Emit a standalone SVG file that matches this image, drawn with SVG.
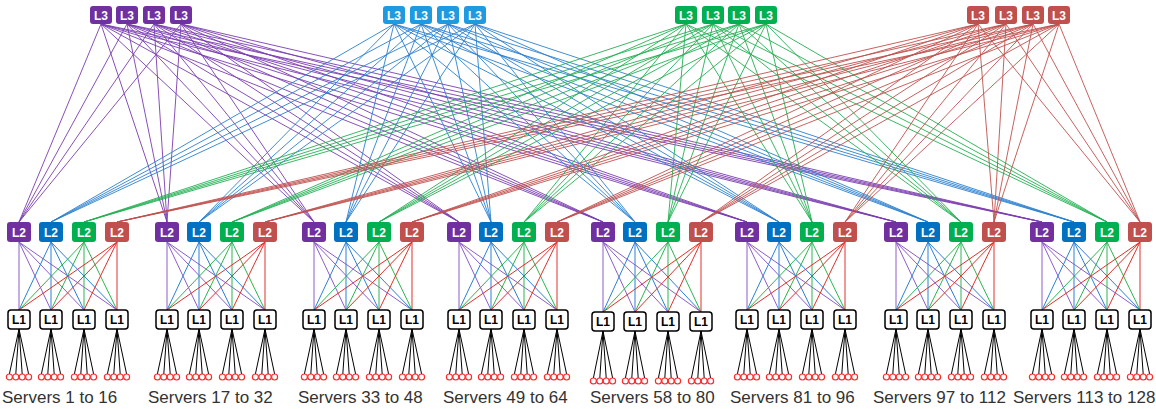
<svg xmlns="http://www.w3.org/2000/svg" width="1156" height="409" viewBox="0 0 1156 409">
<style>
.bg{fill:#fff}
line,path.fan{fill:none}
.cp line{stroke:#7a3cb0;stroke-width:0.9}
.cb line{stroke:#2a80d0;stroke-width:0.9}
.cg line{stroke:#22b052;stroke-width:0.9}
.cr line{stroke:#c0504d;stroke-width:0.9}
.dp line{stroke:#8e5cc8;stroke-width:1}
.db line{stroke:#2a7fd8;stroke-width:1}
.dg line{stroke:#2db552;stroke-width:1}
.dr line{stroke:#e0302a;stroke-width:1}
.fan{stroke:#000;stroke-width:1}
.t{font-family:"Liberation Sans",Arial,sans-serif;font-weight:bold;font-size:12px;text-anchor:middle;fill:#fff}
.t1{font-family:"Liberation Sans",Arial,sans-serif;font-weight:bold;font-size:12px;text-anchor:middle;fill:#000}
.l3p{fill:#7030a0}.l3b{fill:#1e9be0}.l3g{fill:#00b050}.l3r{fill:#c0504d}
.l2p{fill:#7030a0}.l2b{fill:#0070c0}.l2g{fill:#00b050}.l2r{fill:#c0504d}
.l1{fill:#fff;stroke:#000;stroke-width:1.5}
.srv circle{fill:#fff;stroke:#ff2a2a;stroke-width:1.2}
.lab{font-family:"Liberation Sans",Arial,sans-serif;font-size:17px;fill:#333}
</style>
<rect class="bg" x="0" y="0" width="1156" height="409"/>
<g id="connectors">
<g class="cp">
<line x1="101" y1="24" x2="19" y2="222"/><line x1="101" y1="24" x2="167" y2="222"/><line x1="101" y1="24" x2="314" y2="222"/><line x1="101" y1="24" x2="459" y2="222"/><line x1="101" y1="24" x2="603" y2="222"/><line x1="101" y1="24" x2="747" y2="222"/><line x1="101" y1="24" x2="896" y2="222"/><line x1="101" y1="24" x2="1042" y2="222"/>
<line x1="127" y1="24" x2="19" y2="222"/><line x1="127" y1="24" x2="167" y2="222"/><line x1="127" y1="24" x2="314" y2="222"/><line x1="127" y1="24" x2="459" y2="222"/><line x1="127" y1="24" x2="603" y2="222"/><line x1="127" y1="24" x2="747" y2="222"/><line x1="127" y1="24" x2="896" y2="222"/><line x1="127" y1="24" x2="1042" y2="222"/>
<line x1="154" y1="24" x2="19" y2="222"/><line x1="154" y1="24" x2="167" y2="222"/><line x1="154" y1="24" x2="314" y2="222"/><line x1="154" y1="24" x2="459" y2="222"/><line x1="154" y1="24" x2="603" y2="222"/><line x1="154" y1="24" x2="747" y2="222"/><line x1="154" y1="24" x2="896" y2="222"/><line x1="154" y1="24" x2="1042" y2="222"/>
<line x1="181" y1="24" x2="19" y2="222"/><line x1="181" y1="24" x2="167" y2="222"/><line x1="181" y1="24" x2="314" y2="222"/><line x1="181" y1="24" x2="459" y2="222"/><line x1="181" y1="24" x2="603" y2="222"/><line x1="181" y1="24" x2="747" y2="222"/><line x1="181" y1="24" x2="896" y2="222"/><line x1="181" y1="24" x2="1042" y2="222"/>
</g>
<g class="cb">
<line x1="394" y1="24" x2="51" y2="222"/><line x1="394" y1="24" x2="199" y2="222"/><line x1="394" y1="24" x2="346" y2="222"/><line x1="394" y1="24" x2="491" y2="222"/><line x1="394" y1="24" x2="635" y2="222"/><line x1="394" y1="24" x2="779" y2="222"/><line x1="394" y1="24" x2="928" y2="222"/><line x1="394" y1="24" x2="1074" y2="222"/>
<line x1="421" y1="24" x2="51" y2="222"/><line x1="421" y1="24" x2="199" y2="222"/><line x1="421" y1="24" x2="346" y2="222"/><line x1="421" y1="24" x2="491" y2="222"/><line x1="421" y1="24" x2="635" y2="222"/><line x1="421" y1="24" x2="779" y2="222"/><line x1="421" y1="24" x2="928" y2="222"/><line x1="421" y1="24" x2="1074" y2="222"/>
<line x1="448" y1="24" x2="51" y2="222"/><line x1="448" y1="24" x2="199" y2="222"/><line x1="448" y1="24" x2="346" y2="222"/><line x1="448" y1="24" x2="491" y2="222"/><line x1="448" y1="24" x2="635" y2="222"/><line x1="448" y1="24" x2="779" y2="222"/><line x1="448" y1="24" x2="928" y2="222"/><line x1="448" y1="24" x2="1074" y2="222"/>
<line x1="475" y1="24" x2="51" y2="222"/><line x1="475" y1="24" x2="199" y2="222"/><line x1="475" y1="24" x2="346" y2="222"/><line x1="475" y1="24" x2="491" y2="222"/><line x1="475" y1="24" x2="635" y2="222"/><line x1="475" y1="24" x2="779" y2="222"/><line x1="475" y1="24" x2="928" y2="222"/><line x1="475" y1="24" x2="1074" y2="222"/>
</g>
<g class="cg">
<line x1="686" y1="24" x2="84" y2="222"/><line x1="686" y1="24" x2="232" y2="222"/><line x1="686" y1="24" x2="379" y2="222"/><line x1="686" y1="24" x2="524" y2="222"/><line x1="686" y1="24" x2="668" y2="222"/><line x1="686" y1="24" x2="812" y2="222"/><line x1="686" y1="24" x2="961" y2="222"/><line x1="686" y1="24" x2="1107" y2="222"/>
<line x1="713" y1="24" x2="84" y2="222"/><line x1="713" y1="24" x2="232" y2="222"/><line x1="713" y1="24" x2="379" y2="222"/><line x1="713" y1="24" x2="524" y2="222"/><line x1="713" y1="24" x2="668" y2="222"/><line x1="713" y1="24" x2="812" y2="222"/><line x1="713" y1="24" x2="961" y2="222"/><line x1="713" y1="24" x2="1107" y2="222"/>
<line x1="739" y1="24" x2="84" y2="222"/><line x1="739" y1="24" x2="232" y2="222"/><line x1="739" y1="24" x2="379" y2="222"/><line x1="739" y1="24" x2="524" y2="222"/><line x1="739" y1="24" x2="668" y2="222"/><line x1="739" y1="24" x2="812" y2="222"/><line x1="739" y1="24" x2="961" y2="222"/><line x1="739" y1="24" x2="1107" y2="222"/>
<line x1="766" y1="24" x2="84" y2="222"/><line x1="766" y1="24" x2="232" y2="222"/><line x1="766" y1="24" x2="379" y2="222"/><line x1="766" y1="24" x2="524" y2="222"/><line x1="766" y1="24" x2="668" y2="222"/><line x1="766" y1="24" x2="812" y2="222"/><line x1="766" y1="24" x2="961" y2="222"/><line x1="766" y1="24" x2="1107" y2="222"/>
</g>
<g class="cr">
<line x1="978" y1="24" x2="117" y2="222"/><line x1="978" y1="24" x2="265" y2="222"/><line x1="978" y1="24" x2="412" y2="222"/><line x1="978" y1="24" x2="557" y2="222"/><line x1="978" y1="24" x2="701" y2="222"/><line x1="978" y1="24" x2="845" y2="222"/><line x1="978" y1="24" x2="994" y2="222"/><line x1="978" y1="24" x2="1140" y2="222"/>
<line x1="1006" y1="24" x2="117" y2="222"/><line x1="1006" y1="24" x2="265" y2="222"/><line x1="1006" y1="24" x2="412" y2="222"/><line x1="1006" y1="24" x2="557" y2="222"/><line x1="1006" y1="24" x2="701" y2="222"/><line x1="1006" y1="24" x2="845" y2="222"/><line x1="1006" y1="24" x2="994" y2="222"/><line x1="1006" y1="24" x2="1140" y2="222"/>
<line x1="1033" y1="24" x2="117" y2="222"/><line x1="1033" y1="24" x2="265" y2="222"/><line x1="1033" y1="24" x2="412" y2="222"/><line x1="1033" y1="24" x2="557" y2="222"/><line x1="1033" y1="24" x2="701" y2="222"/><line x1="1033" y1="24" x2="845" y2="222"/><line x1="1033" y1="24" x2="994" y2="222"/><line x1="1033" y1="24" x2="1140" y2="222"/>
<line x1="1059" y1="24" x2="117" y2="222"/><line x1="1059" y1="24" x2="265" y2="222"/><line x1="1059" y1="24" x2="412" y2="222"/><line x1="1059" y1="24" x2="557" y2="222"/><line x1="1059" y1="24" x2="701" y2="222"/><line x1="1059" y1="24" x2="845" y2="222"/><line x1="1059" y1="24" x2="994" y2="222"/><line x1="1059" y1="24" x2="1140" y2="222"/>
</g>
<g class="dp">
<line x1="19" y1="242" x2="19" y2="310"/><line x1="19" y1="242" x2="51" y2="310"/><line x1="19" y1="242" x2="84" y2="310"/><line x1="19" y1="242" x2="117" y2="310"/>
<line x1="167" y1="242" x2="167" y2="310"/><line x1="167" y1="242" x2="199" y2="310"/><line x1="167" y1="242" x2="232" y2="310"/><line x1="167" y1="242" x2="265" y2="310"/>
<line x1="314" y1="242" x2="314" y2="310"/><line x1="314" y1="242" x2="346" y2="310"/><line x1="314" y1="242" x2="379" y2="310"/><line x1="314" y1="242" x2="412" y2="310"/>
<line x1="459" y1="242" x2="459" y2="310"/><line x1="459" y1="242" x2="491" y2="310"/><line x1="459" y1="242" x2="524" y2="310"/><line x1="459" y1="242" x2="557" y2="310"/>
<line x1="603" y1="242" x2="603" y2="312"/><line x1="603" y1="242" x2="635" y2="312"/><line x1="603" y1="242" x2="668" y2="312"/><line x1="603" y1="242" x2="701" y2="312"/>
<line x1="747" y1="242" x2="747" y2="310"/><line x1="747" y1="242" x2="779" y2="310"/><line x1="747" y1="242" x2="812" y2="310"/><line x1="747" y1="242" x2="845" y2="310"/>
<line x1="896" y1="242" x2="896" y2="310"/><line x1="896" y1="242" x2="928" y2="310"/><line x1="896" y1="242" x2="961" y2="310"/><line x1="896" y1="242" x2="994" y2="310"/>
<line x1="1042" y1="242" x2="1042" y2="310"/><line x1="1042" y1="242" x2="1074" y2="310"/><line x1="1042" y1="242" x2="1107" y2="310"/><line x1="1042" y1="242" x2="1140" y2="310"/>
</g>
<g class="db">
<line x1="51" y1="242" x2="19" y2="310"/><line x1="51" y1="242" x2="51" y2="310"/><line x1="51" y1="242" x2="84" y2="310"/><line x1="51" y1="242" x2="117" y2="310"/>
<line x1="199" y1="242" x2="167" y2="310"/><line x1="199" y1="242" x2="199" y2="310"/><line x1="199" y1="242" x2="232" y2="310"/><line x1="199" y1="242" x2="265" y2="310"/>
<line x1="346" y1="242" x2="314" y2="310"/><line x1="346" y1="242" x2="346" y2="310"/><line x1="346" y1="242" x2="379" y2="310"/><line x1="346" y1="242" x2="412" y2="310"/>
<line x1="491" y1="242" x2="459" y2="310"/><line x1="491" y1="242" x2="491" y2="310"/><line x1="491" y1="242" x2="524" y2="310"/><line x1="491" y1="242" x2="557" y2="310"/>
<line x1="635" y1="242" x2="603" y2="312"/><line x1="635" y1="242" x2="635" y2="312"/><line x1="635" y1="242" x2="668" y2="312"/><line x1="635" y1="242" x2="701" y2="312"/>
<line x1="779" y1="242" x2="747" y2="310"/><line x1="779" y1="242" x2="779" y2="310"/><line x1="779" y1="242" x2="812" y2="310"/><line x1="779" y1="242" x2="845" y2="310"/>
<line x1="928" y1="242" x2="896" y2="310"/><line x1="928" y1="242" x2="928" y2="310"/><line x1="928" y1="242" x2="961" y2="310"/><line x1="928" y1="242" x2="994" y2="310"/>
<line x1="1074" y1="242" x2="1042" y2="310"/><line x1="1074" y1="242" x2="1074" y2="310"/><line x1="1074" y1="242" x2="1107" y2="310"/><line x1="1074" y1="242" x2="1140" y2="310"/>
</g>
<g class="dg">
<line x1="84" y1="242" x2="19" y2="310"/><line x1="84" y1="242" x2="51" y2="310"/><line x1="84" y1="242" x2="84" y2="310"/><line x1="84" y1="242" x2="117" y2="310"/>
<line x1="232" y1="242" x2="167" y2="310"/><line x1="232" y1="242" x2="199" y2="310"/><line x1="232" y1="242" x2="232" y2="310"/><line x1="232" y1="242" x2="265" y2="310"/>
<line x1="379" y1="242" x2="314" y2="310"/><line x1="379" y1="242" x2="346" y2="310"/><line x1="379" y1="242" x2="379" y2="310"/><line x1="379" y1="242" x2="412" y2="310"/>
<line x1="524" y1="242" x2="459" y2="310"/><line x1="524" y1="242" x2="491" y2="310"/><line x1="524" y1="242" x2="524" y2="310"/><line x1="524" y1="242" x2="557" y2="310"/>
<line x1="668" y1="242" x2="603" y2="312"/><line x1="668" y1="242" x2="635" y2="312"/><line x1="668" y1="242" x2="668" y2="312"/><line x1="668" y1="242" x2="701" y2="312"/>
<line x1="812" y1="242" x2="747" y2="310"/><line x1="812" y1="242" x2="779" y2="310"/><line x1="812" y1="242" x2="812" y2="310"/><line x1="812" y1="242" x2="845" y2="310"/>
<line x1="961" y1="242" x2="896" y2="310"/><line x1="961" y1="242" x2="928" y2="310"/><line x1="961" y1="242" x2="961" y2="310"/><line x1="961" y1="242" x2="994" y2="310"/>
<line x1="1107" y1="242" x2="1042" y2="310"/><line x1="1107" y1="242" x2="1074" y2="310"/><line x1="1107" y1="242" x2="1107" y2="310"/><line x1="1107" y1="242" x2="1140" y2="310"/>
</g>
<g class="dr">
<line x1="117" y1="242" x2="19" y2="310"/><line x1="117" y1="242" x2="51" y2="310"/><line x1="117" y1="242" x2="84" y2="310"/><line x1="117" y1="242" x2="117" y2="310"/>
<line x1="265" y1="242" x2="167" y2="310"/><line x1="265" y1="242" x2="199" y2="310"/><line x1="265" y1="242" x2="232" y2="310"/><line x1="265" y1="242" x2="265" y2="310"/>
<line x1="412" y1="242" x2="314" y2="310"/><line x1="412" y1="242" x2="346" y2="310"/><line x1="412" y1="242" x2="379" y2="310"/><line x1="412" y1="242" x2="412" y2="310"/>
<line x1="557" y1="242" x2="459" y2="310"/><line x1="557" y1="242" x2="491" y2="310"/><line x1="557" y1="242" x2="524" y2="310"/><line x1="557" y1="242" x2="557" y2="310"/>
<line x1="701" y1="242" x2="603" y2="312"/><line x1="701" y1="242" x2="635" y2="312"/><line x1="701" y1="242" x2="668" y2="312"/><line x1="701" y1="242" x2="701" y2="312"/>
<line x1="845" y1="242" x2="747" y2="310"/><line x1="845" y1="242" x2="779" y2="310"/><line x1="845" y1="242" x2="812" y2="310"/><line x1="845" y1="242" x2="845" y2="310"/>
<line x1="994" y1="242" x2="896" y2="310"/><line x1="994" y1="242" x2="928" y2="310"/><line x1="994" y1="242" x2="961" y2="310"/><line x1="994" y1="242" x2="994" y2="310"/>
<line x1="1140" y1="242" x2="1042" y2="310"/><line x1="1140" y1="242" x2="1074" y2="310"/><line x1="1140" y1="242" x2="1107" y2="310"/><line x1="1140" y1="242" x2="1140" y2="310"/>
</g>
<g class="fans">
<path class="fan" d="M19 329L9.4 374M19 329L15.8 374M19 329L22.2 374M19 329L28.6 374"/>
<path class="fan" d="M51 329L41.4 374M51 329L47.8 374M51 329L54.2 374M51 329L60.6 374"/>
<path class="fan" d="M84 329L74.4 374M84 329L80.8 374M84 329L87.2 374M84 329L93.6 374"/>
<path class="fan" d="M117 329L107.4 374M117 329L113.8 374M117 329L120.2 374M117 329L126.6 374"/>
<path class="fan" d="M167 329L157.4 374M167 329L163.8 374M167 329L170.2 374M167 329L176.6 374"/>
<path class="fan" d="M199 329L189.4 374M199 329L195.8 374M199 329L202.2 374M199 329L208.6 374"/>
<path class="fan" d="M232 329L222.4 374M232 329L228.8 374M232 329L235.2 374M232 329L241.6 374"/>
<path class="fan" d="M265 329L255.4 374M265 329L261.8 374M265 329L268.2 374M265 329L274.6 374"/>
<path class="fan" d="M314 329L304.4 374M314 329L310.8 374M314 329L317.2 374M314 329L323.6 374"/>
<path class="fan" d="M346 329L336.4 374M346 329L342.8 374M346 329L349.2 374M346 329L355.6 374"/>
<path class="fan" d="M379 329L369.4 374M379 329L375.8 374M379 329L382.2 374M379 329L388.6 374"/>
<path class="fan" d="M412 329L402.4 374M412 329L408.8 374M412 329L415.2 374M412 329L421.6 374"/>
<path class="fan" d="M459 329L449.4 374M459 329L455.8 374M459 329L462.2 374M459 329L468.6 374"/>
<path class="fan" d="M491 329L481.4 374M491 329L487.8 374M491 329L494.2 374M491 329L500.6 374"/>
<path class="fan" d="M524 329L514.4 374M524 329L520.8 374M524 329L527.2 374M524 329L533.6 374"/>
<path class="fan" d="M557 329L547.4 374M557 329L553.8 374M557 329L560.2 374M557 329L566.6 374"/>
<path class="fan" d="M603 331L593.4 378M603 331L599.8 378M603 331L606.2 378M603 331L612.6 378"/>
<path class="fan" d="M635 331L625.4 378M635 331L631.8 378M635 331L638.2 378M635 331L644.6 378"/>
<path class="fan" d="M668 331L658.4 378M668 331L664.8 378M668 331L671.2 378M668 331L677.6 378"/>
<path class="fan" d="M701 331L691.4 378M701 331L697.8 378M701 331L704.2 378M701 331L710.6 378"/>
<path class="fan" d="M747 329L737.4 374M747 329L743.8 374M747 329L750.2 374M747 329L756.6 374"/>
<path class="fan" d="M779 329L769.4 374M779 329L775.8 374M779 329L782.2 374M779 329L788.6 374"/>
<path class="fan" d="M812 329L802.4 374M812 329L808.8 374M812 329L815.2 374M812 329L821.6 374"/>
<path class="fan" d="M845 329L835.4 374M845 329L841.8 374M845 329L848.2 374M845 329L854.6 374"/>
<path class="fan" d="M896 329L886.4 374M896 329L892.8 374M896 329L899.2 374M896 329L905.6 374"/>
<path class="fan" d="M928 329L918.4 374M928 329L924.8 374M928 329L931.2 374M928 329L937.6 374"/>
<path class="fan" d="M961 329L951.4 374M961 329L957.8 374M961 329L964.2 374M961 329L970.6 374"/>
<path class="fan" d="M994 329L984.4 374M994 329L990.8 374M994 329L997.2 374M994 329L1003.6 374"/>
<path class="fan" d="M1042 329L1032.4 374M1042 329L1038.8 374M1042 329L1045.2 374M1042 329L1051.6 374"/>
<path class="fan" d="M1074 329L1064.4 374M1074 329L1070.8 374M1074 329L1077.2 374M1074 329L1083.6 374"/>
<path class="fan" d="M1107 329L1097.4 374M1107 329L1103.8 374M1107 329L1110.2 374M1107 329L1116.6 374"/>
<path class="fan" d="M1140 329L1130.4 374M1140 329L1136.8 374M1140 329L1143.2 374M1140 329L1149.6 374"/>
</g>
</g>
<g id="l3-nodes">
<g id="l3p1"><rect class="l3p" x="90" y="6" width="22" height="18" rx="3"/><text class="t" x="101" y="19.5">L3</text></g>
<g id="l3p2"><rect class="l3p" x="116" y="6" width="22" height="18" rx="3"/><text class="t" x="127" y="19.5">L3</text></g>
<g id="l3p3"><rect class="l3p" x="143" y="6" width="22" height="18" rx="3"/><text class="t" x="154" y="19.5">L3</text></g>
<g id="l3p4"><rect class="l3p" x="170" y="6" width="22" height="18" rx="3"/><text class="t" x="181" y="19.5">L3</text></g>
<g id="l3b1"><rect class="l3b" x="383" y="6" width="22" height="18" rx="3"/><text class="t" x="394" y="19.5">L3</text></g>
<g id="l3b2"><rect class="l3b" x="410" y="6" width="22" height="18" rx="3"/><text class="t" x="421" y="19.5">L3</text></g>
<g id="l3b3"><rect class="l3b" x="437" y="6" width="22" height="18" rx="3"/><text class="t" x="448" y="19.5">L3</text></g>
<g id="l3b4"><rect class="l3b" x="464" y="6" width="22" height="18" rx="3"/><text class="t" x="475" y="19.5">L3</text></g>
<g id="l3g1"><rect class="l3g" x="675" y="6" width="22" height="18" rx="3"/><text class="t" x="686" y="19.5">L3</text></g>
<g id="l3g2"><rect class="l3g" x="702" y="6" width="22" height="18" rx="3"/><text class="t" x="713" y="19.5">L3</text></g>
<g id="l3g3"><rect class="l3g" x="728" y="6" width="22" height="18" rx="3"/><text class="t" x="739" y="19.5">L3</text></g>
<g id="l3g4"><rect class="l3g" x="755" y="6" width="22" height="18" rx="3"/><text class="t" x="766" y="19.5">L3</text></g>
<g id="l3r1"><rect class="l3r" x="967" y="6" width="22" height="18" rx="3"/><text class="t" x="978" y="19.5">L3</text></g>
<g id="l3r2"><rect class="l3r" x="995" y="6" width="22" height="18" rx="3"/><text class="t" x="1006" y="19.5">L3</text></g>
<g id="l3r3"><rect class="l3r" x="1022" y="6" width="22" height="18" rx="3"/><text class="t" x="1033" y="19.5">L3</text></g>
<g id="l3r4"><rect class="l3r" x="1048" y="6" width="22" height="18" rx="3"/><text class="t" x="1059" y="19.5">L3</text></g>
</g>
<g id="l2-nodes">
<g id="l2-1p"><rect class="l2p" x="7" y="222" width="24" height="20" rx="3"/><text class="t" x="19" y="236.5">L2</text></g>
<g id="l2-1b"><rect class="l2b" x="39" y="222" width="24" height="20" rx="3"/><text class="t" x="51" y="236.5">L2</text></g>
<g id="l2-1g"><rect class="l2g" x="72" y="222" width="24" height="20" rx="3"/><text class="t" x="84" y="236.5">L2</text></g>
<g id="l2-1r"><rect class="l2r" x="105" y="222" width="24" height="20" rx="3"/><text class="t" x="117" y="236.5">L2</text></g>
<g id="l2-2p"><rect class="l2p" x="155" y="222" width="24" height="20" rx="3"/><text class="t" x="167" y="236.5">L2</text></g>
<g id="l2-2b"><rect class="l2b" x="187" y="222" width="24" height="20" rx="3"/><text class="t" x="199" y="236.5">L2</text></g>
<g id="l2-2g"><rect class="l2g" x="220" y="222" width="24" height="20" rx="3"/><text class="t" x="232" y="236.5">L2</text></g>
<g id="l2-2r"><rect class="l2r" x="253" y="222" width="24" height="20" rx="3"/><text class="t" x="265" y="236.5">L2</text></g>
<g id="l2-3p"><rect class="l2p" x="302" y="222" width="24" height="20" rx="3"/><text class="t" x="314" y="236.5">L2</text></g>
<g id="l2-3b"><rect class="l2b" x="334" y="222" width="24" height="20" rx="3"/><text class="t" x="346" y="236.5">L2</text></g>
<g id="l2-3g"><rect class="l2g" x="367" y="222" width="24" height="20" rx="3"/><text class="t" x="379" y="236.5">L2</text></g>
<g id="l2-3r"><rect class="l2r" x="400" y="222" width="24" height="20" rx="3"/><text class="t" x="412" y="236.5">L2</text></g>
<g id="l2-4p"><rect class="l2p" x="447" y="222" width="24" height="20" rx="3"/><text class="t" x="459" y="236.5">L2</text></g>
<g id="l2-4b"><rect class="l2b" x="479" y="222" width="24" height="20" rx="3"/><text class="t" x="491" y="236.5">L2</text></g>
<g id="l2-4g"><rect class="l2g" x="512" y="222" width="24" height="20" rx="3"/><text class="t" x="524" y="236.5">L2</text></g>
<g id="l2-4r"><rect class="l2r" x="545" y="222" width="24" height="20" rx="3"/><text class="t" x="557" y="236.5">L2</text></g>
<g id="l2-5p"><rect class="l2p" x="591" y="222" width="24" height="20" rx="3"/><text class="t" x="603" y="236.5">L2</text></g>
<g id="l2-5b"><rect class="l2b" x="623" y="222" width="24" height="20" rx="3"/><text class="t" x="635" y="236.5">L2</text></g>
<g id="l2-5g"><rect class="l2g" x="656" y="222" width="24" height="20" rx="3"/><text class="t" x="668" y="236.5">L2</text></g>
<g id="l2-5r"><rect class="l2r" x="689" y="222" width="24" height="20" rx="3"/><text class="t" x="701" y="236.5">L2</text></g>
<g id="l2-6p"><rect class="l2p" x="735" y="222" width="24" height="20" rx="3"/><text class="t" x="747" y="236.5">L2</text></g>
<g id="l2-6b"><rect class="l2b" x="767" y="222" width="24" height="20" rx="3"/><text class="t" x="779" y="236.5">L2</text></g>
<g id="l2-6g"><rect class="l2g" x="800" y="222" width="24" height="20" rx="3"/><text class="t" x="812" y="236.5">L2</text></g>
<g id="l2-6r"><rect class="l2r" x="833" y="222" width="24" height="20" rx="3"/><text class="t" x="845" y="236.5">L2</text></g>
<g id="l2-7p"><rect class="l2p" x="884" y="222" width="24" height="20" rx="3"/><text class="t" x="896" y="236.5">L2</text></g>
<g id="l2-7b"><rect class="l2b" x="916" y="222" width="24" height="20" rx="3"/><text class="t" x="928" y="236.5">L2</text></g>
<g id="l2-7g"><rect class="l2g" x="949" y="222" width="24" height="20" rx="3"/><text class="t" x="961" y="236.5">L2</text></g>
<g id="l2-7r"><rect class="l2r" x="982" y="222" width="24" height="20" rx="3"/><text class="t" x="994" y="236.5">L2</text></g>
<g id="l2-8p"><rect class="l2p" x="1030" y="222" width="24" height="20" rx="3"/><text class="t" x="1042" y="236.5">L2</text></g>
<g id="l2-8b"><rect class="l2b" x="1062" y="222" width="24" height="20" rx="3"/><text class="t" x="1074" y="236.5">L2</text></g>
<g id="l2-8g"><rect class="l2g" x="1095" y="222" width="24" height="20" rx="3"/><text class="t" x="1107" y="236.5">L2</text></g>
<g id="l2-8r"><rect class="l2r" x="1128" y="222" width="24" height="20" rx="3"/><text class="t" x="1140" y="236.5">L2</text></g>
</g>
<g id="l1-nodes">
<g id="l1-1a"><rect class="l1" x="8" y="310" width="22" height="19" rx="3"/><text class="t1" x="19" y="324">L1</text></g>
<g id="l1-1b"><rect class="l1" x="40" y="310" width="22" height="19" rx="3"/><text class="t1" x="51" y="324">L1</text></g>
<g id="l1-1c"><rect class="l1" x="73" y="310" width="22" height="19" rx="3"/><text class="t1" x="84" y="324">L1</text></g>
<g id="l1-1d"><rect class="l1" x="106" y="310" width="22" height="19" rx="3"/><text class="t1" x="117" y="324">L1</text></g>
<g id="l1-2a"><rect class="l1" x="156" y="310" width="22" height="19" rx="3"/><text class="t1" x="167" y="324">L1</text></g>
<g id="l1-2b"><rect class="l1" x="188" y="310" width="22" height="19" rx="3"/><text class="t1" x="199" y="324">L1</text></g>
<g id="l1-2c"><rect class="l1" x="221" y="310" width="22" height="19" rx="3"/><text class="t1" x="232" y="324">L1</text></g>
<g id="l1-2d"><rect class="l1" x="254" y="310" width="22" height="19" rx="3"/><text class="t1" x="265" y="324">L1</text></g>
<g id="l1-3a"><rect class="l1" x="303" y="310" width="22" height="19" rx="3"/><text class="t1" x="314" y="324">L1</text></g>
<g id="l1-3b"><rect class="l1" x="335" y="310" width="22" height="19" rx="3"/><text class="t1" x="346" y="324">L1</text></g>
<g id="l1-3c"><rect class="l1" x="368" y="310" width="22" height="19" rx="3"/><text class="t1" x="379" y="324">L1</text></g>
<g id="l1-3d"><rect class="l1" x="401" y="310" width="22" height="19" rx="3"/><text class="t1" x="412" y="324">L1</text></g>
<g id="l1-4a"><rect class="l1" x="448" y="310" width="22" height="19" rx="3"/><text class="t1" x="459" y="324">L1</text></g>
<g id="l1-4b"><rect class="l1" x="480" y="310" width="22" height="19" rx="3"/><text class="t1" x="491" y="324">L1</text></g>
<g id="l1-4c"><rect class="l1" x="513" y="310" width="22" height="19" rx="3"/><text class="t1" x="524" y="324">L1</text></g>
<g id="l1-4d"><rect class="l1" x="546" y="310" width="22" height="19" rx="3"/><text class="t1" x="557" y="324">L1</text></g>
<g id="l1-5a"><rect class="l1" x="592" y="312" width="22" height="19" rx="3"/><text class="t1" x="603" y="326">L1</text></g>
<g id="l1-5b"><rect class="l1" x="624" y="312" width="22" height="19" rx="3"/><text class="t1" x="635" y="326">L1</text></g>
<g id="l1-5c"><rect class="l1" x="657" y="312" width="22" height="19" rx="3"/><text class="t1" x="668" y="326">L1</text></g>
<g id="l1-5d"><rect class="l1" x="690" y="312" width="22" height="19" rx="3"/><text class="t1" x="701" y="326">L1</text></g>
<g id="l1-6a"><rect class="l1" x="736" y="310" width="22" height="19" rx="3"/><text class="t1" x="747" y="324">L1</text></g>
<g id="l1-6b"><rect class="l1" x="768" y="310" width="22" height="19" rx="3"/><text class="t1" x="779" y="324">L1</text></g>
<g id="l1-6c"><rect class="l1" x="801" y="310" width="22" height="19" rx="3"/><text class="t1" x="812" y="324">L1</text></g>
<g id="l1-6d"><rect class="l1" x="834" y="310" width="22" height="19" rx="3"/><text class="t1" x="845" y="324">L1</text></g>
<g id="l1-7a"><rect class="l1" x="885" y="310" width="22" height="19" rx="3"/><text class="t1" x="896" y="324">L1</text></g>
<g id="l1-7b"><rect class="l1" x="917" y="310" width="22" height="19" rx="3"/><text class="t1" x="928" y="324">L1</text></g>
<g id="l1-7c"><rect class="l1" x="950" y="310" width="22" height="19" rx="3"/><text class="t1" x="961" y="324">L1</text></g>
<g id="l1-7d"><rect class="l1" x="983" y="310" width="22" height="19" rx="3"/><text class="t1" x="994" y="324">L1</text></g>
<g id="l1-8a"><rect class="l1" x="1031" y="310" width="22" height="19" rx="3"/><text class="t1" x="1042" y="324">L1</text></g>
<g id="l1-8b"><rect class="l1" x="1063" y="310" width="22" height="19" rx="3"/><text class="t1" x="1074" y="324">L1</text></g>
<g id="l1-8c"><rect class="l1" x="1096" y="310" width="22" height="19" rx="3"/><text class="t1" x="1107" y="324">L1</text></g>
<g id="l1-8d"><rect class="l1" x="1129" y="310" width="22" height="19" rx="3"/><text class="t1" x="1140" y="324">L1</text></g>
</g>
<g id="servers" class="srv">
<g id="s1"><circle cx="9.4" cy="377" r="3"/></g><g id="s2"><circle cx="15.8" cy="377" r="3"/></g><g id="s3"><circle cx="22.2" cy="377" r="3"/></g><g id="s4"><circle cx="28.6" cy="377" r="3"/></g>
<g id="s5"><circle cx="41.4" cy="377" r="3"/></g><g id="s6"><circle cx="47.8" cy="377" r="3"/></g><g id="s7"><circle cx="54.2" cy="377" r="3"/></g><g id="s8"><circle cx="60.6" cy="377" r="3"/></g>
<g id="s9"><circle cx="74.4" cy="377" r="3"/></g><g id="s10"><circle cx="80.8" cy="377" r="3"/></g><g id="s11"><circle cx="87.2" cy="377" r="3"/></g><g id="s12"><circle cx="93.6" cy="377" r="3"/></g>
<g id="s13"><circle cx="107.4" cy="377" r="3"/></g><g id="s14"><circle cx="113.8" cy="377" r="3"/></g><g id="s15"><circle cx="120.2" cy="377" r="3"/></g><g id="s16"><circle cx="126.6" cy="377" r="3"/></g>
<g id="s17"><circle cx="157.4" cy="377" r="3"/></g><g id="s18"><circle cx="163.8" cy="377" r="3"/></g><g id="s19"><circle cx="170.2" cy="377" r="3"/></g><g id="s20"><circle cx="176.6" cy="377" r="3"/></g>
<g id="s21"><circle cx="189.4" cy="377" r="3"/></g><g id="s22"><circle cx="195.8" cy="377" r="3"/></g><g id="s23"><circle cx="202.2" cy="377" r="3"/></g><g id="s24"><circle cx="208.6" cy="377" r="3"/></g>
<g id="s25"><circle cx="222.4" cy="377" r="3"/></g><g id="s26"><circle cx="228.8" cy="377" r="3"/></g><g id="s27"><circle cx="235.2" cy="377" r="3"/></g><g id="s28"><circle cx="241.6" cy="377" r="3"/></g>
<g id="s29"><circle cx="255.4" cy="377" r="3"/></g><g id="s30"><circle cx="261.8" cy="377" r="3"/></g><g id="s31"><circle cx="268.2" cy="377" r="3"/></g><g id="s32"><circle cx="274.6" cy="377" r="3"/></g>
<g id="s33"><circle cx="304.4" cy="377" r="3"/></g><g id="s34"><circle cx="310.8" cy="377" r="3"/></g><g id="s35"><circle cx="317.2" cy="377" r="3"/></g><g id="s36"><circle cx="323.6" cy="377" r="3"/></g>
<g id="s37"><circle cx="336.4" cy="377" r="3"/></g><g id="s38"><circle cx="342.8" cy="377" r="3"/></g><g id="s39"><circle cx="349.2" cy="377" r="3"/></g><g id="s40"><circle cx="355.6" cy="377" r="3"/></g>
<g id="s41"><circle cx="369.4" cy="377" r="3"/></g><g id="s42"><circle cx="375.8" cy="377" r="3"/></g><g id="s43"><circle cx="382.2" cy="377" r="3"/></g><g id="s44"><circle cx="388.6" cy="377" r="3"/></g>
<g id="s45"><circle cx="402.4" cy="377" r="3"/></g><g id="s46"><circle cx="408.8" cy="377" r="3"/></g><g id="s47"><circle cx="415.2" cy="377" r="3"/></g><g id="s48"><circle cx="421.6" cy="377" r="3"/></g>
<g id="s49"><circle cx="449.4" cy="377" r="3"/></g><g id="s50"><circle cx="455.8" cy="377" r="3"/></g><g id="s51"><circle cx="462.2" cy="377" r="3"/></g><g id="s52"><circle cx="468.6" cy="377" r="3"/></g>
<g id="s53"><circle cx="481.4" cy="377" r="3"/></g><g id="s54"><circle cx="487.8" cy="377" r="3"/></g><g id="s55"><circle cx="494.2" cy="377" r="3"/></g><g id="s56"><circle cx="500.6" cy="377" r="3"/></g>
<g id="s57"><circle cx="514.4" cy="377" r="3"/></g><g id="s58"><circle cx="520.8" cy="377" r="3"/></g><g id="s59"><circle cx="527.2" cy="377" r="3"/></g><g id="s60"><circle cx="533.6" cy="377" r="3"/></g>
<g id="s61"><circle cx="547.4" cy="377" r="3"/></g><g id="s62"><circle cx="553.8" cy="377" r="3"/></g><g id="s63"><circle cx="560.2" cy="377" r="3"/></g><g id="s64"><circle cx="566.6" cy="377" r="3"/></g>
<g id="s65"><circle cx="593.4" cy="381" r="3"/></g><g id="s66"><circle cx="599.8" cy="381" r="3"/></g><g id="s67"><circle cx="606.2" cy="381" r="3"/></g><g id="s68"><circle cx="612.6" cy="381" r="3"/></g>
<g id="s69"><circle cx="625.4" cy="381" r="3"/></g><g id="s70"><circle cx="631.8" cy="381" r="3"/></g><g id="s71"><circle cx="638.2" cy="381" r="3"/></g><g id="s72"><circle cx="644.6" cy="381" r="3"/></g>
<g id="s73"><circle cx="658.4" cy="381" r="3"/></g><g id="s74"><circle cx="664.8" cy="381" r="3"/></g><g id="s75"><circle cx="671.2" cy="381" r="3"/></g><g id="s76"><circle cx="677.6" cy="381" r="3"/></g>
<g id="s77"><circle cx="691.4" cy="381" r="3"/></g><g id="s78"><circle cx="697.8" cy="381" r="3"/></g><g id="s79"><circle cx="704.2" cy="381" r="3"/></g><g id="s80"><circle cx="710.6" cy="381" r="3"/></g>
<g id="s81"><circle cx="737.4" cy="377" r="3"/></g><g id="s82"><circle cx="743.8" cy="377" r="3"/></g><g id="s83"><circle cx="750.2" cy="377" r="3"/></g><g id="s84"><circle cx="756.6" cy="377" r="3"/></g>
<g id="s85"><circle cx="769.4" cy="377" r="3"/></g><g id="s86"><circle cx="775.8" cy="377" r="3"/></g><g id="s87"><circle cx="782.2" cy="377" r="3"/></g><g id="s88"><circle cx="788.6" cy="377" r="3"/></g>
<g id="s89"><circle cx="802.4" cy="377" r="3"/></g><g id="s90"><circle cx="808.8" cy="377" r="3"/></g><g id="s91"><circle cx="815.2" cy="377" r="3"/></g><g id="s92"><circle cx="821.6" cy="377" r="3"/></g>
<g id="s93"><circle cx="835.4" cy="377" r="3"/></g><g id="s94"><circle cx="841.8" cy="377" r="3"/></g><g id="s95"><circle cx="848.2" cy="377" r="3"/></g><g id="s96"><circle cx="854.6" cy="377" r="3"/></g>
<g id="s97"><circle cx="886.4" cy="377" r="3"/></g><g id="s98"><circle cx="892.8" cy="377" r="3"/></g><g id="s99"><circle cx="899.2" cy="377" r="3"/></g><g id="s100"><circle cx="905.6" cy="377" r="3"/></g>
<g id="s101"><circle cx="918.4" cy="377" r="3"/></g><g id="s102"><circle cx="924.8" cy="377" r="3"/></g><g id="s103"><circle cx="931.2" cy="377" r="3"/></g><g id="s104"><circle cx="937.6" cy="377" r="3"/></g>
<g id="s105"><circle cx="951.4" cy="377" r="3"/></g><g id="s106"><circle cx="957.8" cy="377" r="3"/></g><g id="s107"><circle cx="964.2" cy="377" r="3"/></g><g id="s108"><circle cx="970.6" cy="377" r="3"/></g>
<g id="s109"><circle cx="984.4" cy="377" r="3"/></g><g id="s110"><circle cx="990.8" cy="377" r="3"/></g><g id="s111"><circle cx="997.2" cy="377" r="3"/></g><g id="s112"><circle cx="1003.6" cy="377" r="3"/></g>
<g id="s113"><circle cx="1032.4" cy="377" r="3"/></g><g id="s114"><circle cx="1038.8" cy="377" r="3"/></g><g id="s115"><circle cx="1045.2" cy="377" r="3"/></g><g id="s116"><circle cx="1051.6" cy="377" r="3"/></g>
<g id="s117"><circle cx="1064.4" cy="377" r="3"/></g><g id="s118"><circle cx="1070.8" cy="377" r="3"/></g><g id="s119"><circle cx="1077.2" cy="377" r="3"/></g><g id="s120"><circle cx="1083.6" cy="377" r="3"/></g>
<g id="s121"><circle cx="1097.4" cy="377" r="3"/></g><g id="s122"><circle cx="1103.8" cy="377" r="3"/></g><g id="s123"><circle cx="1110.2" cy="377" r="3"/></g><g id="s124"><circle cx="1116.6" cy="377" r="3"/></g>
<g id="s125"><circle cx="1130.4" cy="377" r="3"/></g><g id="s126"><circle cx="1136.8" cy="377" r="3"/></g><g id="s127"><circle cx="1143.2" cy="377" r="3"/></g><g id="s128"><circle cx="1149.6" cy="377" r="3"/></g>
</g>
<g id="labels">
<text class="lab" x="2" y="403">Servers 1 to 16</text>
<text class="lab" x="148" y="403">Servers 17 to 32</text>
<text class="lab" x="298" y="403">Servers 33 to 48</text>
<text class="lab" x="443" y="403">Servers 49 to 64</text>
<text class="lab" x="590" y="403">Servers 58 to 80</text>
<text class="lab" x="730" y="403">Servers 81 to 96</text>
<text class="lab" x="873" y="403">Servers 97 to 112</text>
<text class="lab" x="1013" y="403">Servers 113 to 128</text>
</g>
</svg>
